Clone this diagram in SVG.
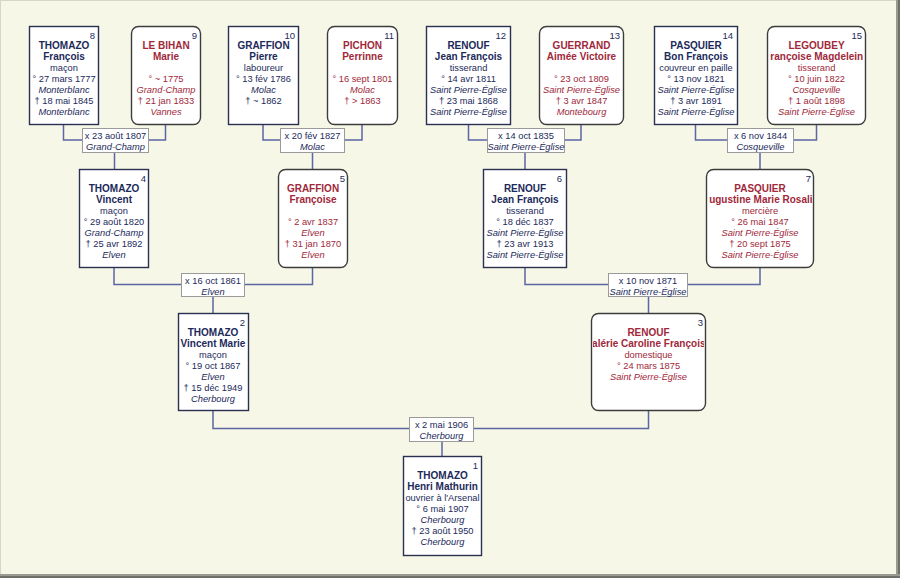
<svg xmlns="http://www.w3.org/2000/svg" width="900" height="578" viewBox="0 0 900 578">
<style>
text{font-family:"Liberation Sans",Arial,sans-serif;font-size:9.3px;text-anchor:middle}
.m{fill:#1c2a5a}
.f{fill:#a0283a}
.b{font-weight:bold;font-size:10px}
.i{font-style:italic}
.n{text-anchor:end;fill:#1c2a5a;font-size:9.5px}
.mb{fill:#fff;stroke:#2a3150;stroke-width:1.4}
.fb{fill:#fff;stroke:#3c3c3c;stroke-width:1.4}
.lb{fill:#fff;stroke:#9a9a9a;stroke-width:1}
.lt{fill:#1c2a5a}
#connectors path{fill:none;stroke:#5b66a3;stroke-width:1.5}
</style>
<defs>
<clipPath id="c15"><rect x="770" y="26" width="93" height="98"/></clipPath>
<clipPath id="c7"><rect x="709" y="169" width="103" height="99"/></clipPath>
<clipPath id="c3"><rect x="593" y="313" width="111" height="98"/></clipPath>
</defs>
<rect x="0" y="0" width="900" height="578" fill="#f7f7e8"/>
<rect x="0.5" y="0.5" width="897" height="575" fill="none" stroke="#d6d6c6" stroke-width="1"/>
<rect x="896" y="0" width="4" height="578" fill="#9a9a90"/>
<rect x="898" y="0" width="2" height="578" fill="#707068"/>
<rect x="0" y="574" width="900" height="4" fill="#9a9a90"/>
<rect x="0" y="576" width="900" height="2" fill="#707068"/>

<g id="connectors">
<path d="M63.5 124V140H165.5V124M114.5 153V169"/>
<path d="M263 124V140H362V124M312.5 152V169"/>
<path d="M468.5 124V140H581V124M525 153V169"/>
<path d="M695.5 124V140H816.5V124M760 153V169"/>
<path d="M114 268V284.5H312.5V268M213 297V313"/>
<path d="M525 268V284.5H760V268M648.5 297V313"/>
<path d="M213 411V428.5H648.5V411M442 442V456"/>
</g>

<g id="marriages">
<g id="m8_9"><rect class="lb" x="82.5" y="128.5" width="66" height="24"/><text class="lt" x="115.5" y="138.5">x 23 août 1807</text><text class="lt i" x="115.5" y="149.5">Grand-Champ</text></g>
<g id="m10_11"><rect class="lb" x="280.5" y="128.5" width="64" height="24"/><text class="lt" x="312.5" y="138.5">x 20 fév 1827</text><text class="lt i" x="312.5" y="149.5">Molac</text></g>
<g id="m12_13"><rect class="lb" x="487.5" y="128.5" width="77" height="24"/><text class="lt" x="526" y="138.5">x 14 oct 1835</text><text class="lt i" x="526" y="149.5">Saint Pierre-Église</text></g>
<g id="m14_15"><rect class="lb" x="727.5" y="128.5" width="66" height="24"/><text class="lt" x="760.5" y="138.5">x 6 nov 1844</text><text class="lt i" x="760.5" y="149.5">Cosqueville</text></g>
<g id="m4_5"><rect class="lb" x="181.5" y="273.5" width="63" height="23"/><text class="lt" x="213" y="283.5">x 16 oct 1861</text><text class="lt i" x="213" y="294.5">Elven</text></g>
<g id="m6_7"><rect class="lb" x="608.5" y="273.5" width="79" height="23"/><text class="lt" x="648" y="283.5">x 10 nov 1871</text><text class="lt i" x="648" y="294.5">Saint Pierre-Église</text></g>
<g id="m2_3"><rect class="lb" x="409.5" y="417.5" width="64" height="24"/><text class="lt" x="441.5" y="427.5">x 2 mai 1906</text><text class="lt i" x="441.5" y="438.5">Cherbourg</text></g>
</g>

<g id="p8">
<rect class="mb" x="29.5" y="26.5" width="69" height="98"/>
<text class="n" x="95" y="39">8</text>
<text class="m b" x="64" y="49">THOMAZO</text>
<text class="m b" x="64" y="60">François</text>
<text class="m" x="64" y="71">maçon</text>
<text class="m" x="64" y="82">° 27 mars 1777</text>
<text class="m i" x="64" y="93">Monterblanc</text>
<text class="m" x="64" y="104">† 18 mai 1845</text>
<text class="m i" x="64" y="115">Monterblanc</text>
</g>
<g id="p9">
<rect class="fb" x="131.5" y="26.5" width="69" height="98" rx="7"/>
<text class="n" x="197" y="39">9</text>
<text class="f b" x="166" y="49">LE BIHAN</text>
<text class="f b" x="166" y="60">Marie</text>
<text class="f" x="166" y="82">° ~ 1775</text>
<text class="f i" x="166" y="93">Grand-Champ</text>
<text class="f" x="166" y="104">† 21 jan 1833</text>
<text class="f i" x="166" y="115">Vannes</text>
</g>
<g id="p10">
<rect class="mb" x="228.5" y="26.5" width="70" height="98"/>
<text class="n" x="295" y="39">10</text>
<text class="m b" x="263.5" y="49">GRAFFION</text>
<text class="m b" x="263.5" y="60">Pierre</text>
<text class="m" x="263.5" y="71">laboureur</text>
<text class="m" x="263.5" y="82">° 13 fév 1786</text>
<text class="m i" x="263.5" y="93">Molac</text>
<text class="m" x="263.5" y="104">† ~ 1862</text>
</g>
<g id="p11">
<rect class="fb" x="327.5" y="26.5" width="70" height="98" rx="7"/>
<text class="n" x="394" y="39">11</text>
<text class="f b" x="362.5" y="49">PICHON</text>
<text class="f b" x="362.5" y="60">Perrinne</text>
<text class="f" x="362.5" y="82">° 16 sept 1801</text>
<text class="f i" x="362.5" y="93">Molac</text>
<text class="f" x="362.5" y="104">† &gt; 1863</text>
</g>
<g id="p12">
<rect class="mb" x="426.5" y="26.5" width="84" height="98"/>
<text class="n" x="506" y="39">12</text>
<text class="m b" x="468.5" y="49">RENOUF</text>
<text class="m b" x="468.5" y="60">Jean François</text>
<text class="m" x="468.5" y="71">tisserand</text>
<text class="m" x="468.5" y="82">° 14 avr 1811</text>
<text class="m i" x="468.5" y="93">Saint Pierre-Église</text>
<text class="m" x="468.5" y="104">† 23 mai 1868</text>
<text class="m i" x="468.5" y="115">Saint Pierre-Église</text>
</g>
<g id="p13">
<rect class="fb" x="539.5" y="26.5" width="84" height="98" rx="7"/>
<text class="n" x="620" y="39">13</text>
<text class="f b" x="581.5" y="49">GUERRAND</text>
<text class="f b" x="581.5" y="60">Aimée Victoire</text>
<text class="f" x="581.5" y="82">° 23 oct 1809</text>
<text class="f i" x="581.5" y="93">Saint Pierre-Église</text>
<text class="f" x="581.5" y="104">† 3 avr 1847</text>
<text class="f i" x="581.5" y="115">Montebourg</text>
</g>
<g id="p14">
<rect class="mb" x="654.5" y="26.5" width="83" height="98"/>
<text class="n" x="733" y="39">14</text>
<text class="m b" x="696" y="49">PASQUIER</text>
<text class="m b" x="696" y="60">Bon François</text>
<text class="m" x="696" y="71">couvreur en paille</text>
<text class="m" x="696" y="82">° 13 nov 1821</text>
<text class="m i" x="696" y="93">Saint Pierre-Église</text>
<text class="m" x="696" y="104">† 3 avr 1891</text>
<text class="m i" x="696" y="115">Saint Pierre-Église</text>
</g>
<g id="p15">
<rect class="fb" x="767.5" y="26.5" width="98" height="98" rx="7"/>
<text class="n" x="862" y="39">15</text>
<text class="f b" x="816.5" y="49">LEGOUBEY</text>
<text class="f b" x="816.5" y="60" clip-path="url(#c15)">Françoise Magdeleine</text>
<text class="f" x="816.5" y="71">tisserand</text>
<text class="f" x="816.5" y="82">° 10 juin 1822</text>
<text class="f i" x="816.5" y="93">Cosqueville</text>
<text class="f" x="816.5" y="104">† 1 août 1898</text>
<text class="f i" x="816.5" y="115">Saint Pierre-Église</text>
</g>
<g id="p4">
<rect class="mb" x="79.5" y="169.5" width="69" height="98"/>
<text class="n" x="146" y="182">4</text>
<text class="m b" x="114" y="192">THOMAZO</text>
<text class="m b" x="114" y="203">Vincent</text>
<text class="m" x="114" y="214">maçon</text>
<text class="m" x="114" y="225">° 29 août 1820</text>
<text class="m i" x="114" y="236">Grand-Champ</text>
<text class="m" x="114" y="247">† 25 avr 1892</text>
<text class="m i" x="114" y="258">Elven</text>
</g>
<g id="p5">
<rect class="fb" x="278.5" y="169.5" width="69" height="98" rx="7"/>
<text class="n" x="345" y="182">5</text>
<text class="f b" x="313" y="192">GRAFFION</text>
<text class="f b" x="313" y="203">Françoise</text>
<text class="f" x="313" y="225">° 2 avr 1837</text>
<text class="f i" x="313" y="236">Elven</text>
<text class="f" x="313" y="247">† 31 jan 1870</text>
<text class="f i" x="313" y="258">Elven</text>
</g>
<g id="p6">
<rect class="mb" x="483.5" y="169.5" width="83" height="98"/>
<text class="n" x="562" y="182">6</text>
<text class="m b" x="525" y="192">RENOUF</text>
<text class="m b" x="525" y="203">Jean François</text>
<text class="m" x="525" y="214">tisserand</text>
<text class="m" x="525" y="225">° 18 déc 1837</text>
<text class="m i" x="525" y="236">Saint Pierre-Église</text>
<text class="m" x="525" y="247">† 23 avr 1913</text>
<text class="m i" x="525" y="258">Saint Pierre-Église</text>
</g>
<g id="p7">
<rect class="fb" x="706.5" y="169.5" width="107" height="98" rx="7"/>
<text class="n" x="811" y="182">7</text>
<text class="f b" x="760" y="192">PASQUIER</text>
<text class="f b" x="760" y="203" clip-path="url(#c7)">Augustine Marie Rosalie</text>
<text class="f" x="760" y="214">mercière</text>
<text class="f" x="760" y="225">° 26 mai 1847</text>
<text class="f i" x="760" y="236">Saint Pierre-Église</text>
<text class="f" x="760" y="247">† 20 sept 1875</text>
<text class="f i" x="760" y="258">Saint Pierre-Église</text>
</g>
<g id="p2">
<rect class="mb" x="178.5" y="313.5" width="70" height="97"/>
<text class="n" x="245" y="326">2</text>
<text class="m b" x="213" y="336">THOMAZO</text>
<text class="m b" x="213" y="347">Vincent Marie</text>
<text class="m" x="213" y="358">maçon</text>
<text class="m" x="213" y="369">° 19 oct 1867</text>
<text class="m i" x="213" y="380">Elven</text>
<text class="m" x="213" y="391">† 15 déc 1949</text>
<text class="m i" x="213" y="402">Cherbourg</text>
</g>
<g id="p3">
<rect class="fb" x="591.5" y="313.5" width="114" height="97" rx="7"/>
<text class="n" x="703" y="326">3</text>
<text class="f b" x="648.5" y="336">RENOUF</text>
<text class="f b" x="648.5" y="347" clip-path="url(#c3)">Valérie Caroline Françoise</text>
<text class="f" x="648.5" y="358">domestique</text>
<text class="f" x="648.5" y="369">° 24 mars 1875</text>
<text class="f i" x="648.5" y="380">Saint Pierre-Église</text>
</g>
<g id="p1">
<rect class="mb" x="403.5" y="456.5" width="78" height="99"/>
<text class="n" x="478" y="469">1</text>
<text class="m b" x="442.5" y="479">THOMAZO</text>
<text class="m b" x="442.5" y="490">Henri Mathurin</text>
<text class="m" x="442.5" y="501">ouvrier à l'Arsenal</text>
<text class="m" x="442.5" y="512">° 6 mai 1907</text>
<text class="m i" x="442.5" y="523">Cherbourg</text>
<text class="m" x="442.5" y="534">† 23 août 1950</text>
<text class="m i" x="442.5" y="545">Cherbourg</text>
</g>
</svg>
